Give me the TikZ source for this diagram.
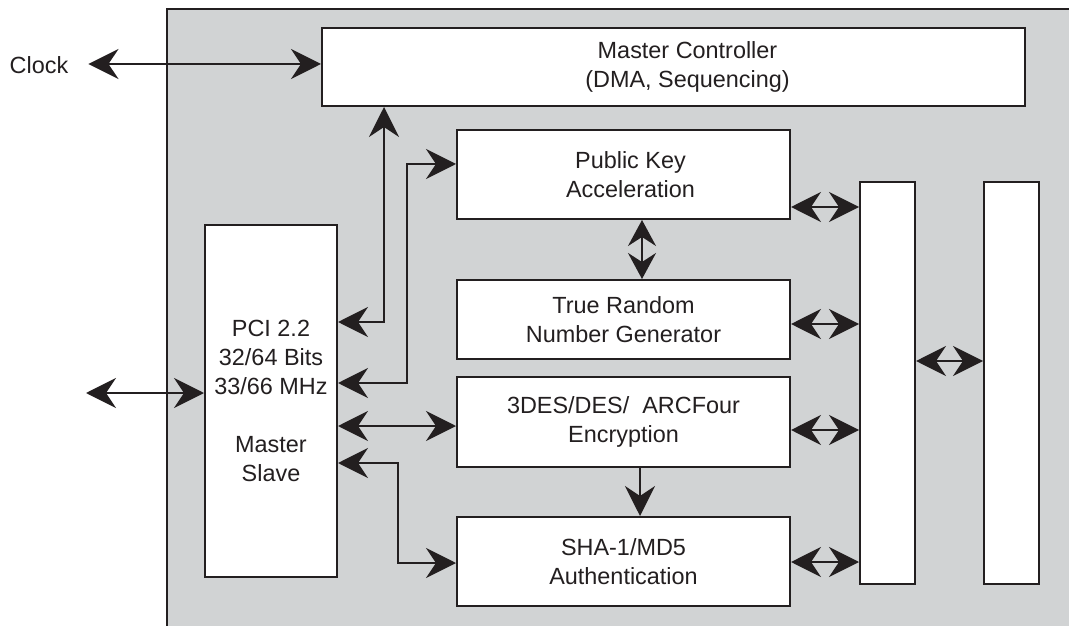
\documentclass[tikz,border=0pt]{standalone}
\usepackage{fontspec}
\setmainfont{Liberation Sans}
\usetikzlibrary{arrows.meta}
\definecolor{chipgray}{rgb}{0.82,0.827,0.831}
\definecolor{ink}{rgb}{0.137,0.122,0.125}

\begin{document}
\begin{tikzpicture}[x=1bp,y=-1bp,line join=miter,
  >={Stealth[length=30bp,width=30bp,inset=10bp]},
  blk/.style={draw=ink,line width=2bp,fill=white,inner sep=0pt,align=center,
    font=\fontsize{23.5}{29}\selectfont,text=ink},
  link/.style={<->,draw=ink,line width=2.2bp}]
\useasboundingbox (0,0) rectangle (1069,626);
%%
  % Chip outline
  \fill[chipgray] (167,9) rectangle (1069,626);
  \draw[ink,line width=2bp] (167,626) |- (1069,9);
  % Node: Clock
  \node[inner sep=0pt,text=ink,font=\fontsize{23.5}{29}\selectfont] (clock) at (39,65) {Clock};
  \coordinate (ext) at (86,393);
  % Node: Master Controller
  \node[blk,minimum width=703bp,minimum height=78bp] (ctrl) at (673.5,67)
    {\hspace*{28bp}Master Controller\\\hspace*{28bp}(DMA, Sequencing)};
  % Node: Public Key
  \node[blk,minimum width=333bp,minimum height=89bp] (pk) at (623.5,174.5) {\hspace*{14bp}Public Key\\\hspace*{14bp}Acceleration};
  % Node: True Random
  \node[blk,minimum width=333bp,minimum height=79bp] (trng) at (623.5,319.5) {True Random\\Number Generator};
  % Node: 3DES
  \node[blk,minimum width=333bp,minimum height=90bp] (des) at (623.5,422) {3DES/DES/\ \ ARCFour\\Encryption};
  % Node: SHA
  \node[blk,minimum width=333bp,minimum height=89bp] (sha) at (623.5,561.5) {SHA-1/MD5\\Authentication};
  % Node: PCI
  \node[blk,minimum width=132bp,minimum height=352bp] (pci) at (271,401) {PCI 2.2\\32/64 Bits\\33/66 MHz\\[29bp]Master\\Slave};
  % Node: buses
  \node[blk,minimum width=55bp,minimum height=402bp] (bus1) at (887.5,383) {};
  \node[blk,minimum width=55bp,minimum height=402bp] (bus2) at (1011.5,383) {};
%%
  % Edge: Clock <-> Master Controller
  \draw[link] ([xshift=20bp,yshift=1bp]clock.east) -- (ctrl.west |- 0,64);
  % Edge: outside <-> PCI
  \draw[link] (ext) -- (pci.west |- ext);
  % Edge: PCI <-> Master Controller
  \draw[link] (pci.east |- 0,322) -| (ctrl.south -| 384,0);
  % Edge: PCI <-> Public Key
  \draw[link] (pci.east |- 0,383) -| (407,164) -- (pk.west |- 0,164);
  % Edge: PCI <-> 3DES
  \draw[link] (pci.east |- 0,426) -- (des.west |- 0,426);
  % Edge: PCI <-> SHA
  \draw[link] (pci.east |- 0,463) -| (398,563) -- (sha.west |- 0,563);
  % Edge: Public Key <-> True Random
  \draw[link,{Stealth[length=26bp,width=28bp,inset=9bp]}-{Stealth[length=26bp,width=28bp,inset=9bp]}]
    (pk.south -| 642,0) -- (trng.north -| 642,0);
  % Edge: 3DES -> SHA
  \draw[ink,line width=2.2bp,->] (des.south -| 640,0) -- (sha.north -| 640,0);
  % Edge: blocks <-> bus
  \draw[link] (pk.east |- 0,207) -- (bus1.west |- 0,207);
  \draw[link] (trng.east |- 0,324) -- (bus1.west |- 0,324);
  \draw[link] (des.east |- 0,430) -- (bus1.west |- 0,430);
  \draw[link] (sha.east |- 0,562) -- (bus1.west |- 0,562);
  % Edge: bus <-> bus
  \draw[link] (bus1.east |- 0,361) -- (bus2.west |- 0,361);
%
\end{tikzpicture}
\end{document}
